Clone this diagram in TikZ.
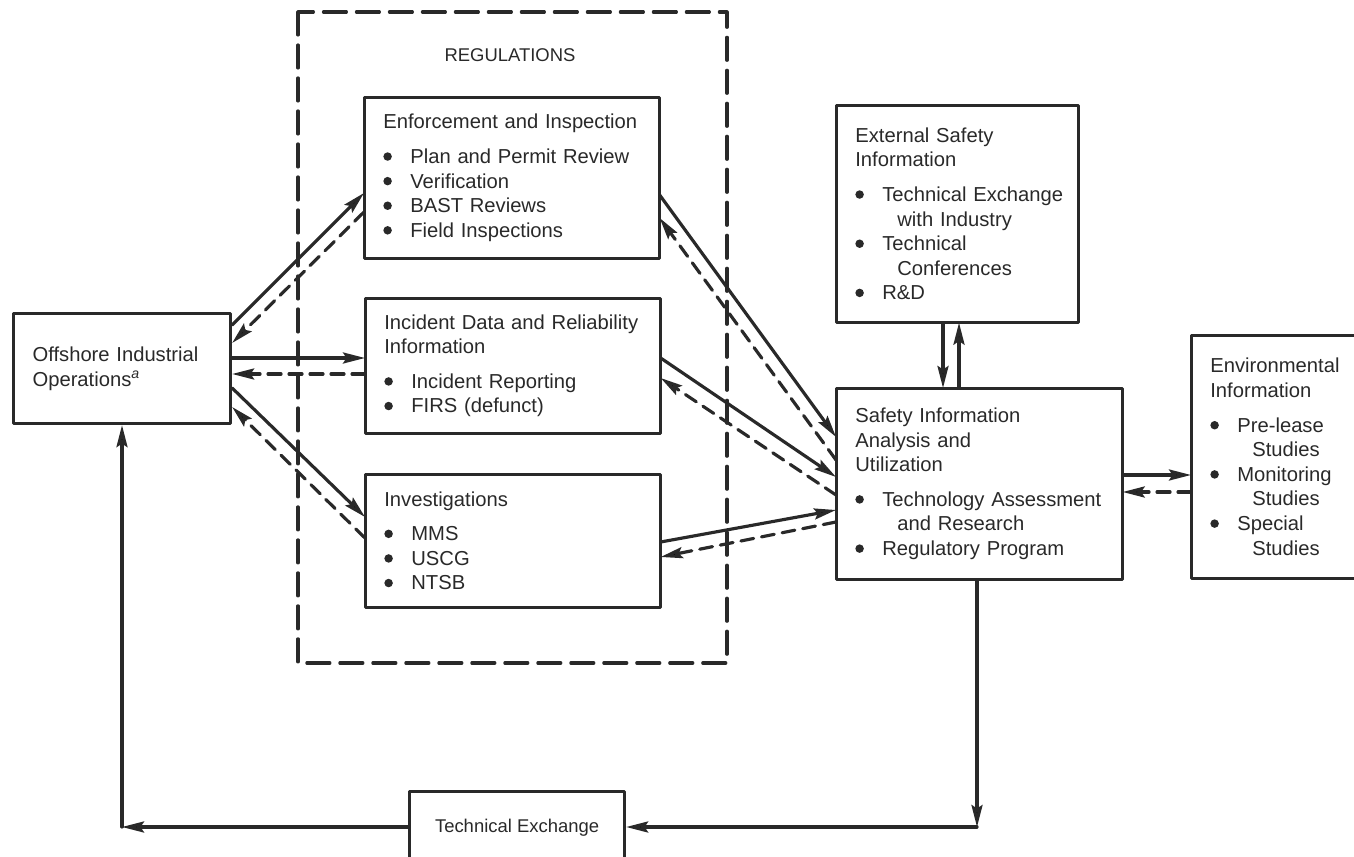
\documentclass[tikz,border=0pt]{standalone}
\usepackage{fontspec}
\setmainfont{Liberation Sans}
\usepackage{tikz}
\usetikzlibrary{arrows.meta,positioning}
\definecolor{ink}{rgb}{0.16,0.16,0.16}
\newcommand{\itm}{\makebox[0.54cm][l]{\raisebox{0.25ex}{\tikz\fill[ink] (0,0) circle (0.085cm);}}}
\newcommand{\cnt}{\hspace*{0.84cm}}
\tikzset{
  blk/.style={draw=ink,rectangle,anchor=north west,inner xsep=0.38cm,align=left,text=ink,font=\fontsize{11.5}{14}\selectfont},
  dsh/.style={dash pattern=on 0.26cm off 0.16cm},
  regbox/.style={dash pattern=on 0.46cm off 0.2cm}
}

\begin{document}
\begin{tikzpicture}[line cap=round,line join=round,>={Stealth[length=0.44cm,width=0.22cm,inset=0.07cm]},x=0.02cm,y=-0.02cm,line width=1.8pt,draw=ink]
\clip (0,0) rectangle (1354,857);
\draw[regbox] (298,12) rectangle (727,663);
\node[text=ink,font=\fontsize{10.5}{12}\selectfont] (reg) at (510,55) {REGULATIONS};
\node[blk,text width=3.58cm,minimum height=2.2cm] (off) at (12,312) {Offshore Industrial\\Operations\textsuperscript{\textit{a}}};
\node[blk,text width=5.14cm,minimum height=3.22cm] (enf) at (364,97) {Enforcement and Inspection\\[0.2cm]\itm Plan and Permit Review\\\itm Verification\\\itm BAST Reviews\\\itm Field Inspections};
\node[blk,text width=5.14cm,minimum height=2.7cm] (inc) at (365,298) {\mbox{Incident Data and Reliability}\\Information\\[0.2cm]\itm Incident Reporting\\\itm FIRS (defunct)};
\node[blk,text width=5.14cm,minimum height=2.66cm] (inv) at (365,474) {Investigations\\[0.2cm]\itm MMS\\\itm USCG\\\itm NTSB};
\node[blk,text width=4.08cm,minimum height=4.34cm] (ext) at (836,105) {External Safety\\Information\\[0.2cm]\itm \mbox{Technical Exchange}\\\cnt with Industry\\\itm Technical\\\cnt Conferences\\\itm R\&D};
\node[blk,text width=4.96cm,minimum height=3.82cm] (saf) at (836,388) {Safety Information\\Analysis and\\Utilization\\[0.2cm]\itm \mbox{Technology Assessment}\\\cnt and Research\\\itm Regulatory Program};
\node[blk,text width=3.02cm,minimum height=4.86cm] (env) at (1191,335) {Environmental\\Information\\[0.2cm]\itm Pre-lease\\\cnt Studies\\\itm Monitoring\\\cnt Studies\\\itm Special\\\cnt Studies};
\node[blk,align=center,minimum width=4.3cm,minimum height=1.44cm,font=\fontsize{10.5}{12}\selectfont] (techx) at (408,790) {Technical Exchange};
\draw[->] (off.east |- 0,325) -- (enf.west |- 0,193);
\draw[->,dsh] (enf.west |- 0,212) -- (off.east |- 0,343);
\draw[->] (off.east |- 0,358) -- (inc.west |- 0,358);
\draw[->,dsh] (inc.west |- 0,374) -- (off.east |- 0,374);
\draw[->] (off.east |- 0,388) -- (inv.west |- 0,517);
\draw[->,dsh] (inv.west |- 0,538) -- (off.east |- 0,407);
\draw[->] (enf.east |- 0,195) -- (saf.west |- 0,437);
\draw[->,dsh] (saf.west |- 0,460) -- (enf.east |- 0,218);
\draw[->] (inc.east |- 0,358) -- (saf.west |- 0,477);
\draw[->,dsh] (saf.west |- 0,495) -- (inc.east |- 0,378);
\draw[->] (inv.east |- 0,542) -- (saf.west |- 0,510);
\draw[->,dsh] (saf.west |- 0,522) -- (inv.east |- 0,557);
\draw[->] (ext.south -| 943,0) -- (saf.north -| 943,0);
\draw[->] (saf.north -| 959,0) -- (ext.south -| 959,0);
\draw[->] (saf.east |- 0,475) -- (env.west |- 0,475);
\draw[->,dsh] (env.west |- 0,492) -- (saf.east |- 0,492);
\coordinate (cr) at (977,827);
\coordinate (cl) at (122,827);
\draw[->] (saf.south -| cr) -- (cr);
\draw[->] (cr) -- (techx.east |- cr);
\draw[->] (techx.west |- cr) -- (cl);
\draw[->] (cl) -- (off.south -| cl);
\end{tikzpicture}
\end{document}
